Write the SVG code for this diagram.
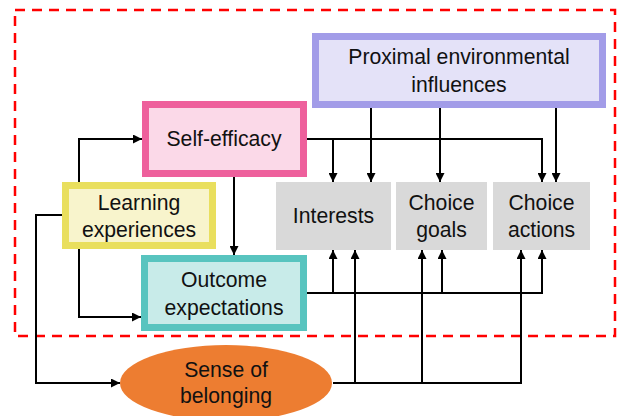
<svg xmlns="http://www.w3.org/2000/svg" width="618" height="416" viewBox="0 0 618 416">
<defs>
<style>
text{font-family:"Liberation Sans",Arial,sans-serif;font-size:21.2px;fill:#111;text-anchor:middle}
.c{fill:none;stroke:#000;stroke-width:2}
.a{marker-end:url(#ah)}
</style>
<marker id="ah" viewBox="0 0 10 10" refX="10" refY="5" markerWidth="9" markerHeight="9" markerUnits="userSpaceOnUse" orient="auto">
<path d="M0,0L10,5L0,10z" fill="#000"/>
</marker>
</defs>
<rect width="618" height="416" fill="#fff"/>
<rect x="15" y="10" width="600" height="326" fill="none" stroke="#F00" stroke-width="2.5" stroke-dasharray="10,7"/>
<g id="connectors">
<path class="c a" d="M79,182V139H142"/>
<path class="c a" d="M79,249V317H141"/>
<path class="c a" d="M62,215H36V383H120"/>
<path class="c a" d="M234,177V255"/>
<path class="c a" d="M307,139H542V182"/>
<path class="c a" d="M333,139V182"/>
<path class="c a" d="M371,108V182"/>
<path class="c a" d="M440,108V182"/>
<path class="c a" d="M556,108V182"/>
<path class="c a" d="M307,293H542V250"/>
<path class="c a" d="M333,293V250"/>
<path class="c a" d="M442,293V250"/>
<path class="c a" d="M333,383H521V250"/>
<path class="c a" d="M355,383V250"/>
<path class="c a" d="M422,383V250"/>
</g>
<g id="proximal">
<rect x="315.5" y="36.5" width="287" height="68" fill="#E4E2F8" stroke="#A29CE8" stroke-width="7"/>
<text x="459" y="64">Proximal environmental</text>
<text x="459" y="92">influences</text>
</g>
<g id="self-efficacy">
<rect x="145.5" y="104.5" width="158" height="69" fill="#FBD9E8" stroke="#EE609C" stroke-width="7"/>
<text x="224" y="146">Self-efficacy</text>
</g>
<g id="learning">
<rect x="65.5" y="185.5" width="147" height="60" fill="#F8F4CC" stroke="#E9DF5E" stroke-width="7"/>
<text x="139" y="210">Learning</text>
<text x="139" y="237">experiences</text>
</g>
<g id="outcome">
<rect x="144.5" y="258.5" width="159" height="69" fill="#C8EBE9" stroke="#58C4BF" stroke-width="7"/>
<text x="224" y="287">Outcome</text>
<text x="224" y="315">expectations</text>
</g>
<g id="interests">
<rect x="276" y="182" width="115" height="68" fill="#D9D9D9"/>
<text x="333.5" y="223">Interests</text>
</g>
<g id="choice-goals">
<rect x="396" y="182" width="91" height="68" fill="#D9D9D9"/>
<text x="441.5" y="210">Choice</text>
<text x="441.5" y="237">goals</text>
</g>
<g id="choice-actions">
<rect x="493" y="182" width="97" height="68" fill="#D9D9D9"/>
<text x="541.5" y="210">Choice</text>
<text x="541.5" y="237">actions</text>
</g>
<g id="belonging">
<ellipse cx="226" cy="383" rx="106" ry="38" fill="#ED7D31"/>
<text x="226" y="377">Sense of</text>
<text x="226" y="403">belonging</text>
</g>
</svg>
